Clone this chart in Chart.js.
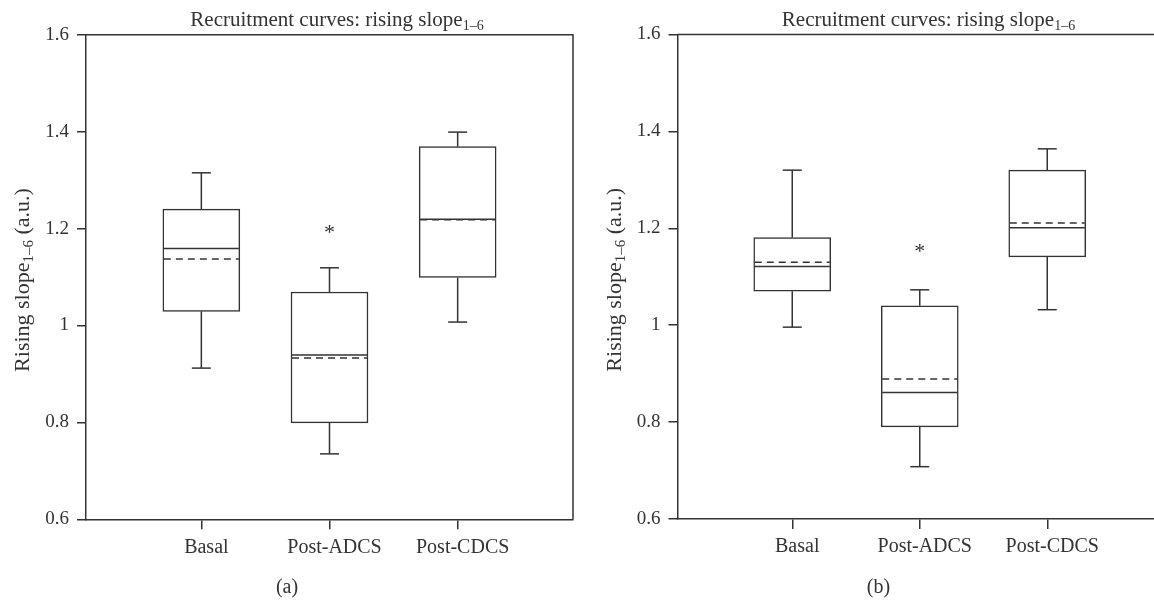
<!DOCTYPE html>
<html>
<head>
<meta charset="utf-8">
<script src="https://cdn.jsdelivr.net/npm/chart.js@4.4.1/dist/chart.umd.min.js"></script>
<style>
  html, body { margin: 0; padding: 0; background: #fff; overflow: hidden; }
  #wrap { position: relative; width: 1154px; height: 603px; overflow: hidden; }
  canvas { position: absolute; top: 0; }
  #panelA { left: 0; }
  #panelB { left: 580px; }
</style>
</head>
<body>
<div id="wrap">
  <canvas id="panelA" width="580" height="603"></canvas>
  <canvas id="panelB" width="620" height="603"></canvas>
</div>
<script>
// ---- data ----
const categories = ['Basal', 'Post-ADCS', 'Post-CDCS'];
const yTickValues = [0.6, 0.8, 1.0, 1.2, 1.4, 1.6];
const yTickLabels = ['0.6', '0.8', '1', '1.2', '1.4', '1.6'];

// panel (a)
const aWhiskerLow  = [0.912, 0.735, 1.007];
const aQ1          = [1.029, 0.799, 1.099];
const aMedian      = [1.159, 0.939, 1.219];
const aMean        = [1.137, 0.933, 1.218];
const aQ3          = [1.240, 1.069, 1.369];
const aWhiskerHigh = [1.315, 1.119, 1.399];
const aStar        = [null, 1.199, null];

// panel (b)
const bWhiskerLow  = [0.996, 0.708, 1.032];
const bQ1          = [1.070, 0.790, 1.141];
const bMedian      = [1.121, 0.861, 1.201];
const bMean        = [1.130, 0.889, 1.211];
const bQ3          = [1.181, 1.040, 1.320];
const bWhiskerHigh = [1.320, 1.073, 1.364];
const bStar        = [null, 1.160, null];

const titleMain = 'Recruitment curves: rising slope';
const titleSub = '1\u20136';
const yLabelMain = 'Rising slope';
const yLabelSub = '1\u20136';
const yLabelTail = ' (a.u.)';

// ---- styling ----
const INK = '#333';
const SERIF = "'Liberation Serif', 'Times New Roman', serif";

// whiskers, caps, median and mean lines, significance mark
const boxDetails = {
  id: 'boxDetails',
  afterDatasetsDraw(chart, args, opts) {
    const { ctx } = chart;
    const x = chart.scales.x, y = chart.scales.y;
    const s = opts.stats;
    const bars = chart.getDatasetMeta(0).data;
    ctx.save();
    ctx.strokeStyle = INK;
    ctx.lineWidth = 1.5;
    const seg = (x1, y1, x2, y2) => { ctx.beginPath(); ctx.moveTo(x1, y1); ctx.lineTo(x2, y2); ctx.stroke(); };
    s.median.forEach((m, i) => {
      const cx = x.getPixelForValue(i + 1);
      const half = bars[i].width / 2;
      const capHalf = opts.capWidth / 2;
      const yLo = y.getPixelForValue(s.lo[i]);
      const yQ1 = y.getPixelForValue(s.q1[i]);
      const yQ3 = y.getPixelForValue(s.q3[i]);
      const yHi = y.getPixelForValue(s.hi[i]);
      seg(cx, yQ3, cx, yHi);
      seg(cx - capHalf, yHi, cx + capHalf, yHi);
      seg(cx, yQ1, cx, yLo);
      seg(cx - capHalf, yLo, cx + capHalf, yLo);
      const yMean = y.getPixelForValue(s.mean[i]);
      ctx.setLineDash([7, 5]);
      seg(cx - half + 1, yMean, cx + half - 1, yMean);
      ctx.setLineDash([]);
      const yMed = y.getPixelForValue(m);
      seg(cx - half + 1, yMed, cx + half - 1, yMed);
      if (s.star[i] != null) {
        ctx.fillStyle = INK;
        ctx.font = '22px ' + SERIF;
        ctx.textAlign = 'center';
        ctx.textBaseline = 'alphabetic';
        const mt = ctx.measureText('*');
        const yS = y.getPixelForValue(s.star[i]);
        ctx.fillText('*', cx, yS + (mt.actualBoundingBoxAscent - mt.actualBoundingBoxDescent) / 2);
      }
    });
    ctx.restore();
  }
};

// top and right edges of the plot frame
const frame = {
  id: 'frame',
  afterDraw(chart) {
    const { ctx, chartArea: a } = chart;
    ctx.save();
    ctx.strokeStyle = INK;
    ctx.lineWidth = 1.5;
    ctx.beginPath();
    ctx.moveTo(a.left, a.top);
    ctx.lineTo(a.right, a.top);
    ctx.lineTo(a.right, a.bottom);
    ctx.stroke();
    ctx.restore();
  }
};

// title, y-axis label and panel letter (with subscripts)
const panelText = {
  id: 'panelText',
  afterDraw(chart, args, opts) {
    const { ctx, chartArea: a } = chart;
    ctx.save();
    ctx.fillStyle = INK;
    ctx.textBaseline = 'alphabetic';
    ctx.textAlign = 'left';

    // title
    const tMain = '21px ' + SERIF, tSub = '14px ' + SERIF;
    ctx.font = tMain; const w1 = ctx.measureText(titleMain).width;
    ctx.font = tSub;  const w2 = ctx.measureText(titleSub).width;
    let tx = a.left + opts.titleDX - (w1 + w2) / 2;
    ctx.font = tMain; ctx.fillText(titleMain, tx, opts.titleY);
    ctx.font = tSub;  ctx.fillText(titleSub, tx + w1, opts.titleY + 4);

    // y-axis label
    const lMain = '22px ' + SERIF, lSub = '15px ' + SERIF;
    ctx.font = lMain; const l1 = ctx.measureText(yLabelMain).width, l3 = ctx.measureText(yLabelTail).width;
    ctx.font = lSub;  const l2 = ctx.measureText(yLabelSub).width;
    const cy = (a.top + a.bottom) / 2 + opts.yLabelDY;
    ctx.translate(a.left + opts.yLabelDX, cy);
    ctx.rotate(-Math.PI / 2);
    let lx = -(l1 + l2 + l3) / 2;
    ctx.font = lMain; ctx.fillText(yLabelMain, lx, 0);
    ctx.font = lSub;  ctx.fillText(yLabelSub, lx + l1, 4);
    ctx.font = lMain; ctx.fillText(yLabelTail, lx + l1 + l2, 0);
    ctx.setTransform(1, 0, 0, 1, 0, 0);

    // panel letter
    ctx.font = '20px ' + SERIF;
    ctx.textAlign = 'center';
    ctx.fillText(opts.letter, a.left + opts.letterDX, opts.letterY);
    ctx.restore();
  }
};

function makePanel(id, stats, geo, letter) {
  return new Chart(document.getElementById(id), {
    type: 'bar',
    data: {
      datasets: [{
        data: categories.map((c, i) => ({ x: i + 1, y: [stats.q1[i], stats.q3[i]] })),
        backgroundColor: '#fff',
        borderColor: INK,
        borderWidth: 1.5,
        borderSkipped: false,
        barThickness: 77
      }]
    },
    options: {
      responsive: false,
      animation: false,
      devicePixelRatio: 1,
      events: [],
      layout: { padding: { left: 0, right: geo.padRight, top: geo.top, bottom: 0 } },
      plugins: {
        legend: { display: false },
        tooltip: { enabled: false },
        title: { display: false },
        boxDetails: { stats, capWidth: 19 },
        panelText: {
          letter,
          titleDX: 251, titleY: 26,
          yLabelDX: -57, yLabelDY: 3,
          letterDX: 201, letterY: 593
        }
      },
      scales: {
        x: {
          type: 'linear',
          min: 0.1,
          max: 3.9,
          offset: false,
          afterBuildTicks: s => { s.ticks = categories.map((c, i) => ({ value: i + 1 })); },
          afterFit: s => { s.height = geo.xHeight; },
          ticks: {
            callback: v => categories[v - 1],
            autoSkip: false,
            maxRotation: 0,
            labelOffset: 5,
            padding: 6,
            color: INK,
            font: { family: SERIF, size: 20 }
          },
          grid: { offset: false, drawOnChartArea: false, drawTicks: true, tickLength: 10, color: INK, lineWidth: 1.5 },
          border: { display: true, color: INK, width: 1.5 }
        },
        y: {
          type: 'linear',
          min: 0.6,
          max: 1.6,
          afterBuildTicks: s => { s.ticks = yTickValues.map(v => ({ value: v })); },
          afterFit: s => { s.width = geo.yWidth; },
          ticks: {
            callback: (v, i) => yTickLabels[i],
            padding: 8,
            color: INK,
            font: { family: SERIF, size: 19 }
          },
          grid: { drawOnChartArea: false, drawTicks: true, tickLength: 9, color: INK, lineWidth: 1.5 },
          border: { display: true, color: INK, width: 1.5 }
        }
      }
    },
    plugins: [boxDetails, frame, panelText]
  });
}

makePanel('panelA',
  { lo: aWhiskerLow, q1: aQ1, median: aMedian, mean: aMean, q3: aQ3, hi: aWhiskerHigh, star: aStar },
  { yWidth: 86, padRight: 7, top: 34.7, xHeight: 83.7 }, '(a)');

makePanel('panelB',
  { lo: bWhiskerLow, q1: bQ1, median: bMedian, mean: bMean, q3: bQ3, hi: bWhiskerHigh, star: bStar },
  { yWidth: 97.5, padRight: 38, top: 34.5, xHeight: 84 }, '(b)');
</script>
</body>
</html>
